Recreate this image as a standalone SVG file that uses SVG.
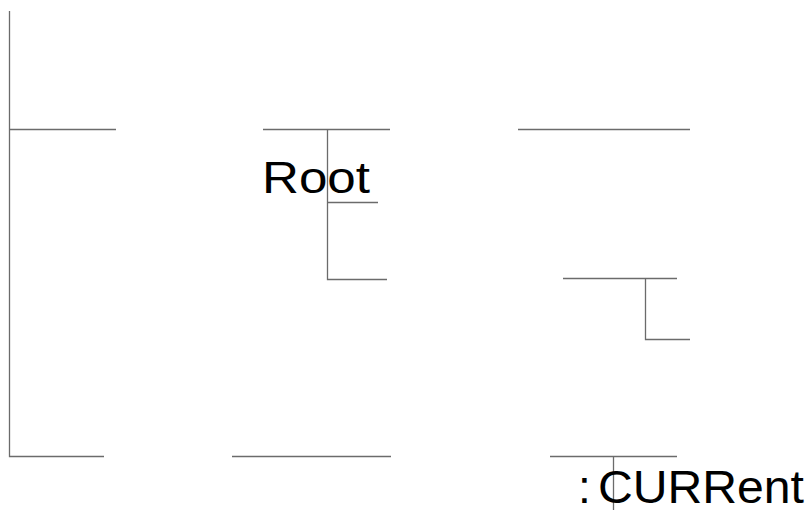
<svg xmlns="http://www.w3.org/2000/svg" width="812" height="513" viewBox="0 0 812 513">
<style>
.ln{stroke:#6b6b6b;stroke-width:1.3;fill:none}
.tx{font-family:"Liberation Sans",Arial,sans-serif;fill:#000}
</style>
<rect width="812" height="513" fill="#fff"/>
<g id="connectors">
<path class="ln" d="M9.5 11V456.5H104"/>
<path class="ln" d="M9 129.5H116"/>
<path class="ln" d="M263 129.5H390"/>
<path class="ln" d="M327.5 129.5V279.5H387"/>
<path class="ln" d="M327.5 202.5H378"/>
<path class="ln" d="M232 456.5H391"/>
<path class="ln" d="M518 129.5H690"/>
<path class="ln" d="M563 278.5H677"/>
<path class="ln" d="M645.5 278.5V339.5H690"/>
<path class="ln" d="M550 456.5H677"/>
<path class="ln" d="M613.5 456.5V510"/>
</g>
<g id="root"><text class="tx" x="262" y="193" font-size="44" textLength="108" lengthAdjust="spacingAndGlyphs">Root</text></g>
<g id="current"><text class="tx" y="503" font-size="46"><tspan x="578">:</tspan><tspan x="598" textLength="206" lengthAdjust="spacingAndGlyphs">CURRent</tspan></text></g>
</svg>
